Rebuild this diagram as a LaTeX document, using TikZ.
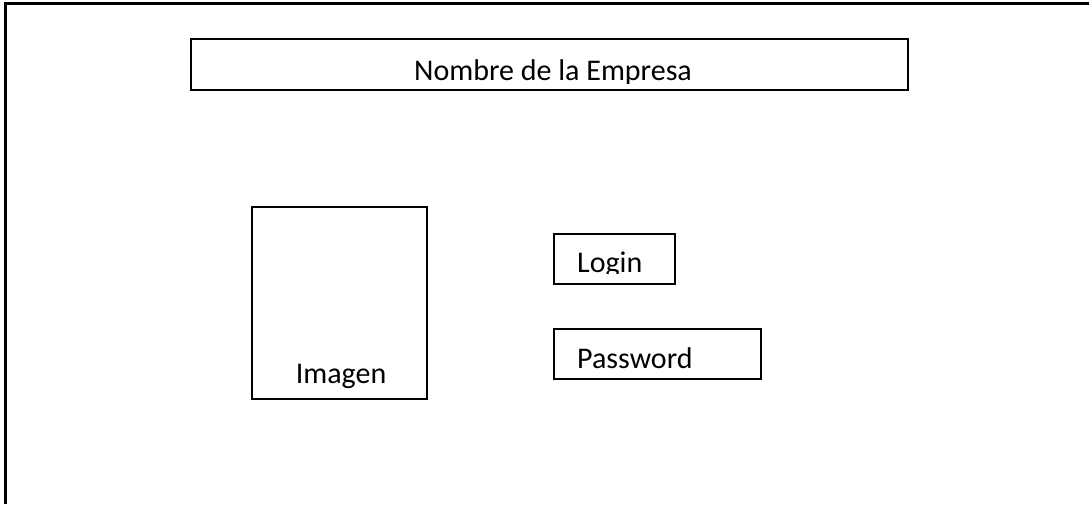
\documentclass[tikz,border=0pt]{standalone}
\usepackage{fontspec}
\setmainfont{Carlito}
\begin{document}
\begin{tikzpicture}[x=1pt,y=-1pt,
  box/.style={draw,line width=2pt,rectangle,inner sep=0pt},
  lbl/.style={inner sep=0pt,font=\fontsize{30}{36}\selectfont}]
\useasboundingbox (0,0) rectangle (1089,504);
%%%%% FRAME %%%%%
\draw[line width=3pt] (1089,3.5) -- (5,3.5) -- (5,504);

%%%%% BOXES %%%%%
\node[box,minimum width=717pt,minimum height=51pt] (empresa) at (549.5,64) {};
\node[box,minimum width=175pt,minimum height=192pt] (imagen) at (339.5,303) {};
\node[box,minimum width=121pt,minimum height=50pt] (login) at (614.5,259) {};
\node[box,minimum width=207pt,minimum height=50pt] (password) at (657.5,354) {};

%%%%% TEXTS %%%%%
\begin{scope}
  \clip (190,38) rectangle (907,83);
  \node[lbl,anchor=base] (tEmpresa) at (553,80) {Nombre de la Empresa};
\end{scope}
\node[lbl,anchor=base] (tImagen) at (341,383) {Imagen};
\begin{scope}
  \clip (555,235) rectangle (674,273);
  \node[lbl,anchor=base west] (tLogin) at (577,272) {Login};
\end{scope}
\node[lbl,anchor=base west] (tPassword) at (577,368) {Password};
\end{tikzpicture}
\end{document}
